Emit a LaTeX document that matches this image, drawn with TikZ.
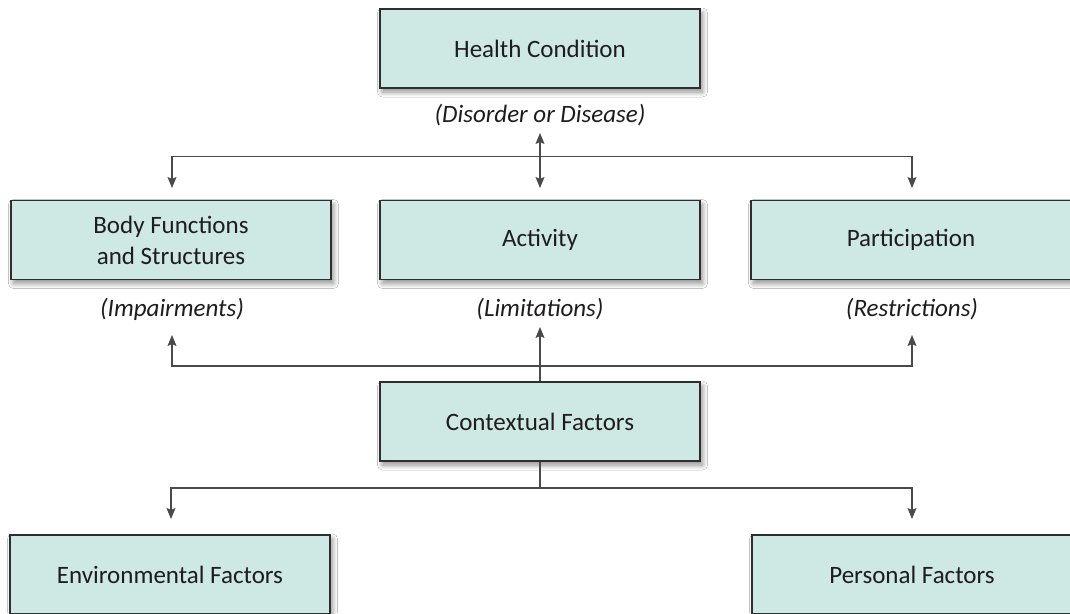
\documentclass[tikz,border=0pt]{standalone}
\usepackage{fontspec}
\setmainfont{Carlito}
\usetikzlibrary{arrows.meta,shadows.blur}
\definecolor{boxfill}{HTML}{CEE8E4}
\definecolor{boxline}{HTML}{2E2E2E}
\definecolor{connline}{HTML}{4A4A4A}
\definecolor{txt}{HTML}{1E1C1D}
\begin{document}
\begin{tikzpicture}[x=1pt,y=-1pt,
  box/.style={draw=boxline,line width=1.3pt,fill=boxfill,minimum width=320pt,minimum height=79pt,
    inner sep=0pt,align=center,text=txt,font=\fontsize{25}{31}\selectfont,
    blur shadow={shadow xshift=2.5pt,shadow yshift=-4pt,shadow blur radius=5pt,shadow opacity=45,shadow blur steps=10}},
  lbl/.style={text=txt,font=\fontsize{25}{31}\selectfont\itshape,inner sep=0pt},
  conn/.style={draw=connline,line width=1.1pt},
  tip/.style={-{Stealth[length=11pt,width=9pt,inset=2pt]}},
  dtip/.style={{Stealth[length=11pt,width=9pt,inset=2pt]}-{Stealth[length=11pt,width=9pt,inset=2pt]}}
]
\fill[white] (0,0) rectangle (1070,613);
\useasboundingbox (0,0) rectangle (1070,613);

\node[box] (hc) at (540,48.5) {Health Condition};
\node[lbl] (dis) at (540,115) {(Disorder or Disease)};

\node[box] (body) at (171,240) {Body Functions\\and Structures};
\node[box] (act) at (540,240) {Activity};
\node[box] (part) at (911,240) {Participation};

\node[lbl] (imp) at (172,309) {(Impairments)};
\node[lbl] (lim) at (540,309) {(Limitations)};
\node[lbl] (res) at (912,309) {(Restrictions)};

\node[box] (ctx) at (540,421.5) {Contextual Factors};

\node[box] (env) at (170,574.5) {Environmental Factors};
\node[box] (pers) at (912,574.5) {Personal Factors};

% top connectors
\coordinate (dtop) at (540,133);
\coordinate (dbot) at (540,188);
\coordinate (hj) at (540,156.5);
\coordinate (btip) at (172,188);
\coordinate (ptip) at (912,188);
\draw[conn,dtip] (dtop) -- (dbot);
\draw[conn,tip] (hj) -| (btip);
\draw[conn,tip] (hj) -| (ptip);

% middle connectors
\coordinate (cj) at (540,366);
\coordinate (ltip) at (540,327);
\coordinate (itip) at (172,335);
\coordinate (rtip) at (912,335);
\draw[conn,tip] (ctx.north) -- (ltip);
\draw[conn,tip] (cj) -| (itip);
\draw[conn,tip] (cj) -| (rtip);

% bottom connectors
\coordinate (dj) at (540,488);
\coordinate (etip) at (171,519);
\coordinate (pftip) at (912,519);
\draw[conn] (ctx.south) -- (dj);
\draw[conn,tip] (dj) -| (etip);
\draw[conn,tip] (dj) -| (pftip);
\end{tikzpicture}
\end{document}
